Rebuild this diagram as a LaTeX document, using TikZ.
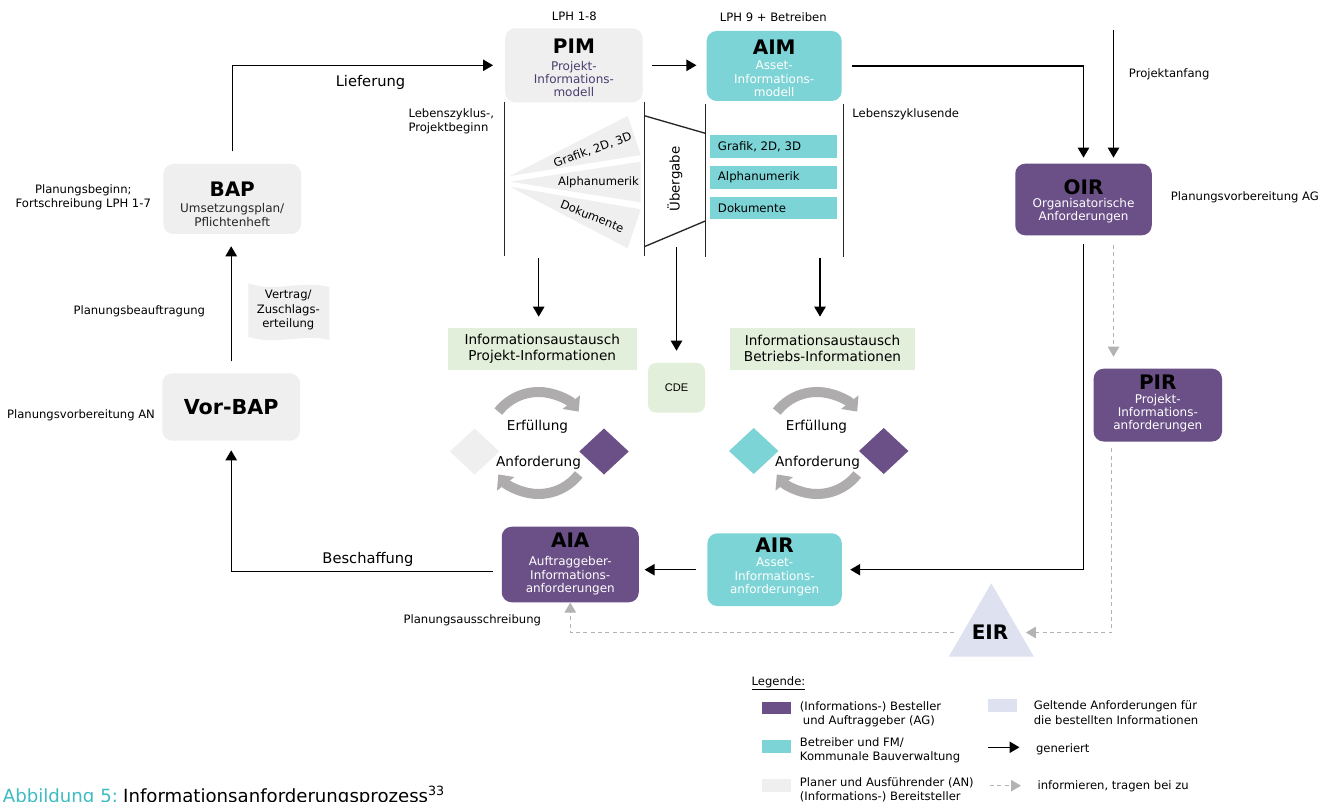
\documentclass[tikz,border=0pt]{standalone}
\usepackage{fontspec}
\setmainfont{DejaVu Sans}
\newfontfamily\cdefont{Liberation Sans}
\usetikzlibrary{arrows.meta}
\definecolor{agpurple}{HTML}{6B4F87}
\definecolor{fmteal}{HTML}{7DD4D6}
\definecolor{angray}{HTML}{EFEFEF}
\definecolor{xgreen}{HTML}{E2EFDA}
\definecolor{reqblue}{HTML}{DDE1F0}
\definecolor{cycgray}{HTML}{AEACAC}
\definecolor{infgray}{HTML}{B3B3B3}
\definecolor{pimtext}{HTML}{4B3D6E}
\definecolor{captionteal}{HTML}{3DBCC2}
\begin{document}
\begin{tikzpicture}[x=0.75pt,y=-0.75pt,
  every node/.style={inner sep=0pt},
  box/.style 2 args={rounded corners=7.5pt, minimum width=#1*0.75pt, minimum height=#2*0.75pt},
  bar/.style 2 args={minimum width=#1*0.75pt, minimum height=#2*0.75pt},
  ttl/.style={font=\bfseries\fontsize{15}{17}\selectfont},
  sub/.style={font=\fontsize{9}{10}\selectfont, align=center},
  lbl/.style={font=\fontsize{8.7}{10.6}\selectfont, align=center},
  lbll/.style={font=\fontsize{8.7}{10.6}\selectfont, align=left},
  big/.style={font=\fontsize{11}{13}\selectfont},
  mid/.style={font=\fontsize{10.2}{12}\selectfont, align=center},
  gen/.style={draw=black, line width=1pt, -{Triangle[length=7.5pt,width=8.5pt]}},
  inf/.style={draw=infgray, line width=1pt, dash pattern=on 3pt off 2.5pt, -{Triangle[length=7.5pt,width=8.5pt]}},
  divline/.style={draw=black!85, line width=1pt},
  cyc/.style={draw=cycgray, line width=7.5pt, -{Triangle[length=9pt,width=16pt]}},
]
\fill[white] (0,0) rectangle (1336,802);
\path[use as bounding box] (0,0) rectangle (1336,802);

% ---------- phase labels ----------
\node[lbl] (lph18) at (574.3,16.7) {LPH 1-8};
\node[lbl] (lph9) at (773.3,17.3) {LPH 9 + Betreiben};

% ---------- model boxes ----------
\node[box={137.4}{74}, fill=angray] (pim) at (573.9,65.3) {};
\node[ttl] (pimT) at (573.9,46.7) {PIM};
\node[sub, text=pimtext] (pimS) at (573.9,79) {Projekt-\\Informations-\\modell};

\node[box={135}{70}, fill=fmteal] (aim) at (774.2,66) {};
\node[ttl] (aimT) at (774.2,47) {AIM};
\node[sub, text=white] (aimS) at (774.2,78.9) {Asset-\\Informations-\\modell};

\node[box={136.5}{71.7}, fill=agpurple] (oir) at (1083.5,199.5) {};
\node[ttl] (oirT) at (1083.5,186.8) {OIR};
\node[sub, text=white] (oirS) at (1083.5,210.8) {Organisatorische\\Anforderungen};

\node[box={128.4}{72.8}, fill=agpurple] (pir) at (1157.8,405.1) {};
\node[ttl] (pirT) at (1157.8,382) {PIR};
\node[sub, text=white] (pirS) at (1157.8,413.3) {Projekt-\\Informations-\\anforderungen};

\node[box={137}{75.6}, fill=agpurple] (aia) at (570.25,564.5) {};
\node[ttl] (aiaT) at (570.25,540.7) {AIA};
\node[sub, text=white] (aiaS) at (570.25,575.9) {Auftraggeber-\\Informations-\\anforderungen};

\node[box={134.4}{72.7}, fill=fmteal] (air) at (774.6,569.7) {};
\node[ttl] (airT) at (774.6,545.7) {AIR};
\node[sub, text=white] (airS) at (774.6,577.2) {Asset-\\Informations-\\anforderungen};

\node[box={137.7}{70}, fill=angray] (bap) at (232.2,199) {};
\node[ttl] (bapT) at (232.2,189.5) {BAP};
\node[sub, text=black!85] (bapS) at (232.2,215) {Umsetzungsplan/\\Pflichtenheft};

\node[box={137.7}{67.4}, fill=angray] (vorbap) at (231.2,407) {};
\node[font=\bfseries\fontsize{15.5}{18}\selectfont] (vorbapT) at (231.2,406.7) {Vor-BAP};

% ---------- side labels ----------
\node[big] (liefer) at (370.5,82) {Lieferung};
\node[big] (beschaff) at (368,559.3) {Beschaffung};
\node[lbl] (planbeg) at (83.3,197.2) {Planungsbeginn;\\Fortschreibung LPH 1-7};
\node[lbl] (planbeauf) at (139.3,311) {Planungsbeauftragung};
\node[lbl] (planvorAN) at (81,415) {Planungsvorbereitung AN};
\node[lbll, anchor=west] (lzbeg) at (408.3,121.3) {Lebenszyklus-,\\Projektbeginn};
\node[lbll, anchor=west] (lzend) at (852.2,114) {Lebenszyklusende};
\node[lbll, anchor=west] (projanf) at (1128.7,74.4) {Projektanfang};
\node[lbll, anchor=west] (planvorAG) at (1170.7,197.4) {Planungsvorbereitung AG};
\node[lbl] (planaus) at (472.3,620.7) {Planungsausschreibung};

% ---------- contract document ----------
\fill[angray] (248.3,283.3) .. controls (275,293) and (300,280) .. (329.3,287)
  -- (329.3,340) .. controls (305,333) and (275,346) .. (248.3,336.7) -- cycle;
\node[lbl] (vertrag) at (288.3,310) {Vertrag/\\Zuschlags-\\erteilung};

% ---------- life-cycle dividers and handover ----------
\draw[divline] (504.7,102) -- (504.7,256);
\draw[divline] (644.3,102) -- (644.3,256);
\draw[divline] (705.3,104) -- (705.3,257);
\draw[divline] (843.3,104) -- (843.3,257);
\draw[divline] (644.3,115.7) -- (705.3,133.3);
\draw[divline] (644.3,246.7) -- (705.3,221);
\node[font=\fontsize{10}{12}\selectfont, rotate=90] (uebergabe) at (675,179) {Übergabe};

% fan of information types (PIM side)
\fill[angray] (510,176) -- (627.7,116) -- (640.7,155) -- cycle;
\fill[angray] (510,181.7) -- (640.7,161.7) -- (640.7,202.3) -- cycle;
\fill[angray] (510,186.7) -- (640.7,209.3) -- (627.7,248.3) -- cycle;
\node[lbl, rotate=20] (fanA) at (592.7,150) {Grafik, 2D, 3D};
\node[lbl] (fanB) at (598.5,182.7) {Alphanumerik};
\node[lbl, rotate=-22] (fanC) at (592.3,216.2) {Dokumente};

% information types (AIM side)
\node[bar={127.3}{22.7}, fill=fmteal] (tb1) at (773.6,146.7) {};
\node[bar={127.3}{22.7}, fill=fmteal] (tb2) at (773.6,177.3) {};
\node[bar={127.3}{22.7}, fill=fmteal] (tb3) at (773.6,208) {};
\node[lbll, font=\fontsize{8.8}{10.6}\selectfont, anchor=west] (tb1t) at (717.7,147) {Grafik, 2D, 3D};
\node[lbll, font=\fontsize{8.8}{10.6}\selectfont, anchor=west] (tb2t) at (717.7,177.5) {Alphanumerik};
\node[lbll, font=\fontsize{8.8}{10.6}\selectfont, anchor=west] (tb3t) at (717.7,208.2) {Dokumente};

% ---------- exchange boxes and CDE ----------
\node[bar={189}{41.6}, fill=xgreen] (pex) at (542.2,348.8) {};
\node[mid] (pexT) at (542.2,348.8) {Informationsaustausch\\Projekt-Informationen};
\node[bar={185}{41.6}, fill=xgreen] (bex) at (822.5,348.8) {};
\node[mid] (bexT) at (822.5,348.8) {Informationsaustausch\\Betriebs-Informationen};
\node[box={57}{49.6}, rounded corners=6pt, fill=xgreen, font=\cdefont\fontsize{8.3}{10}\selectfont] (cde) at (676.5,387.8) {CDE};

\coordinate (d1) at (538.7,258);
\coordinate (d2) at (676.5,247);
\coordinate (d3) at (820,258);
\draw[gen, shorten >=8.3pt] (d1) -- (d1 |- pex.north);
\draw[gen, shorten >=9pt] (d2) -- (cde.north);
\draw[gen, shorten >=8.3pt] (d3) -- (d3 |- bex.north);

% ---------- request / fulfilment cycles ----------
\draw[cyc] ([shift={(218:51)}]538.5,443) arc[start angle=218, end angle=322, radius=51];
\draw[cyc] ([shift={(38:51)}]538.5,443) arc[start angle=38, end angle=142, radius=51];
\draw[cyc] ([shift={(218:51)}]817,443) arc[start angle=218, end angle=322, radius=51];
\draw[cyc] ([shift={(38:51)}]817,443) arc[start angle=38, end angle=142, radius=51];
\node[mid] (erf1) at (537.5,427) {Erfüllung};
\node[mid] (anf1) at (538.5,463) {Anforderung};
\node[mid] (erf2) at (816.5,427) {Erfüllung};
\node[mid] (anf2) at (817.5,463) {Anforderung};
\fill[angray] (474.6,428.5) -- (499.3,451.5) -- (474.6,474.5) -- (449.9,451.5) -- cycle;
\fill[agpurple] (604,428.5) -- (628.7,451.5) -- (604,474.5) -- (579.3,451.5) -- cycle;
\fill[fmteal] (753.7,428) -- (778.4,451) -- (753.7,474) -- (729,451) -- cycle;
\fill[agpurple] (883.7,428) -- (908.4,451) -- (883.7,474) -- (859,451) -- cycle;

% ---------- EIR ----------
\fill[reqblue] (991.3,583.3) -- (1033.8,656.7) -- (948.8,656.7) -- cycle;
\node[ttl, minimum width=71.2*0.75pt] (eir) at (990,632.5) {EIR};

% ---------- process connectors ----------
\draw[gen, shorten <=9.2pt, shorten >=8.9pt] (bap.north) |- (pim.west);
\draw[gen, shorten <=6.8pt, shorten >=7.5pt] (pim.east) -- (pim.east -| aim.west);
\draw[gen, shorten <=7.4pt, shorten >=4.3pt] (aim.east) -| (oir.north);
\coordinate (pa) at (1113.5,29.8);
\draw[gen, shorten >=4.3pt] (pa) -- (pa |- oir.north);
\draw[gen, shorten <=6.2pt, shorten >=6.1pt] (oir.south) |- (air.east);
\draw[inf, shorten <=7pt, shorten >=8.8pt] (oir.south -| pa) -- (pir.north -| pa);
\coordinate (pirout) at (1111.8,441.5);
\draw[inf, shorten <=5pt] (pirout) |- (eir.east);
\draw[inf] (eir.west) -| (aia.south);
\draw[gen, shorten <=8.2pt, shorten >=4.2pt] (air.west) -- (air.west -| aia.east);
\draw[gen, shorten <=6.2pt, shorten >=7pt] ([yshift=-5.4pt]aia.west) -| (vorbap.south);
\draw[gen, shorten <=8.7pt, shorten >=9pt] (vorbap.north) -- (vorbap.north |- bap.south);

% ---------- legend ----------
\node[lbll, anchor=west] (legT) at (751.4,683.3) {\underline{Legende:}};
\node[bar={29}{12}, fill=agpurple] (leg1) at (776.2,708.3) {};
\node[bar={29}{12.7}, fill=fmteal] (leg2) at (776.2,746.3) {};
\node[bar={29}{12.7}, fill=angray] (leg3) at (776.2,785.3) {};
\node[bar={29}{12.4}, fill=reqblue] (leg4) at (1002.4,705.5) {};
\node[lbll, anchor=west] (leg1t) at (799.7,714.2) {(Informations-) Besteller\\\hspace{2.2pt}und Auftraggeber (AG)};
\node[lbll, anchor=west] (leg2t) at (799.7,750.3) {Betreiber und FM/\\Kommunale Bauverwaltung};
\node[lbll, anchor=west] (leg3t) at (799.7,789.7) {Planer und Ausführender (AN)\\(Informations-) Bereitsteller};
\node[lbll, anchor=west] (leg4t) at (1033.5,712.7) {Geltende Anforderungen für\\die bestellten Informationen};
\coordinate (lga) at (988,747.3);
\coordinate (lgb) at (1019.5,747.3);
\draw[gen] (lga) -- (lgb);
\node[lbll, anchor=west] (leg5t) at (1035.8,749.3) {generiert};
\coordinate (lgc) at (990,785.7);
\coordinate (lgd) at (1021,785.7);
\draw[inf] (lgc) -- (lgd);
\node[lbll, anchor=west] (leg6t) at (1037.3,786.2) {informieren, tragen bei zu};

% ---------- caption ----------
\node[anchor=base west, font=\fontsize{13.6}{16}\selectfont] (cap) at (2.7,802.5)
  {\textcolor{captionteal}{Abbildung 5:}\hspace{4pt}Informationsanforderungsprozess\textsuperscript{33}};
\end{tikzpicture}
\end{document}
